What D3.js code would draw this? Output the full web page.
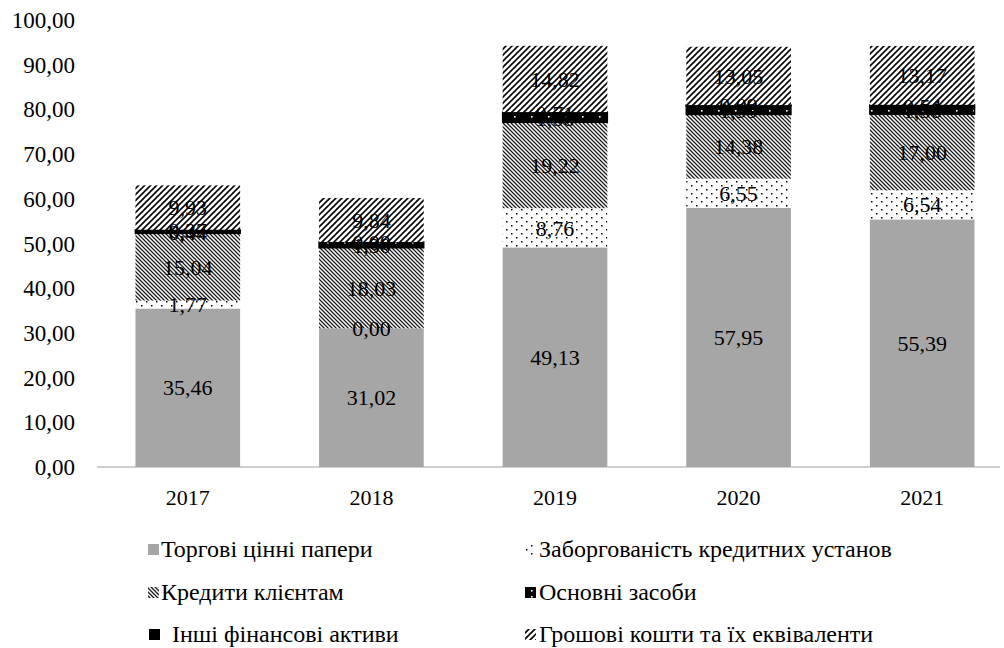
<!DOCTYPE html>
<html>
<head>
<meta charset="utf-8">
<script src="https://cdn.jsdelivr.net/npm/d3@7"></script>
<style>
  html, body { margin: 0; padding: 0; background: #fff; }
</style>
</head>
<body>
<svg id="chart" width="1004" height="648" font-family="'Liberation Serif', 'DejaVu Serif', serif"></svg>
<script>
// Structure of bank assets, %, by year
const years = ["2017", "2018", "2019", "2020", "2021"];

const seriesNames = [
  "Торгові цінні папери",
  "Заборгованість кредитних установ",
  "Кредити клієнтам",
  "Основні засоби",
  "Інші фінансові активи",
  "Грошові кошти та їх еквіваленти"
];

const tradingSecurities = [35.46, 31.02, 49.13, 57.95, 55.39];
const dueFromBanks      = [1.77, 0.00, 8.76, 6.55, 6.54];
const customerLoans     = [15.04, 18.03, 19.22, 14.38, 17.00];
const fixedAssets       = [0.44, 1.30, 1.58, 1.99, 1.56];
const otherFinAssets    = [0.37, 0.00, 0.71, 0.09, 0.54];
const cashEquivalents   = [9.93, 9.84, 14.82, 13.05, 13.17];

const yTicks = [0, 10, 20, 30, 40, 50, 60, 70, 80, 90, 100];

const seriesValues = [tradingSecurities, dueFromBanks, customerLoans,
                      fixedAssets, otherFinAssets, cashEquivalents];

const rows = years.map((y, i) => {
  const r = { year: y };
  seriesNames.forEach((n, k) => { r[n] = seriesValues[k][i]; });
  return r;
});

const svg = d3.select("#chart");
const defs = svg.append("defs");

// Fill patterns
function dotsPattern(id) {
  const p = defs.append("pattern").attr("id", id)
    .attr("patternUnits", "userSpaceOnUse").attr("width", 10).attr("height", 8);
  p.append("rect").attr("width", 10).attr("height", 8).attr("fill", "#fff");
  p.append("rect").attr("x", 1).attr("y", 1).attr("width", 1.5).attr("height", 1.5).attr("fill", "#000");
  p.append("rect").attr("x", 6).attr("y", 5).attr("width", 1.5).attr("height", 1.5).attr("fill", "#000");
}
function hatchPattern(id, size, width, dir, color) {
  const p = defs.append("pattern").attr("id", id)
    .attr("patternUnits", "userSpaceOnUse").attr("width", size).attr("height", size);
  p.append("rect").attr("width", size).attr("height", size).attr("fill", "#fff");
  const d = dir === "down"
    ? `M${-size},0 L${size * 2},${size * 3} M${-size},${-size} L${size * 2},${size * 2} M${-size},${-size * 2} L${size * 2},${size}`
    : `M${-size},${size} L${size},${-size} M0,${size * 2} L${size * 2},0 M${-size},${size * 2} L${size * 2},${-size}`;
  p.append("path").attr("d", d).attr("stroke", color).attr("stroke-width", width);
}
function blackDotsPattern(id) {
  const p = defs.append("pattern").attr("id", id)
    .attr("patternUnits", "userSpaceOnUse").attr("width", 17).attr("height", 6);
  p.append("rect").attr("width", 17).attr("height", 6).attr("fill", "#000");
  p.append("rect").attr("x", 4).attr("y", 2).attr("width", 1.6).attr("height", 1.6).attr("fill", "#fff");
}
dotsPattern("pDots");
hatchPattern("pDown", 4, 1.3, "down", "#1a1a1a");
blackDotsPattern("pBlackDots");
hatchPattern("pUp", 6, 1.6, "up", "#000");

const fills = ["#a6a6a6", "url(#pDots)", "url(#pDown)", "url(#pBlackDots)", "#000", "url(#pUp)"];

const x = d3.scaleBand().domain(years).range([96, 1014]).paddingInner(0.43).paddingOuter(0.215);
const y = d3.scaleLinear().domain([0, 100]).range([467, 20]);

const fmt = v => d3.format(".2f")(v).replace(".", ",");

// Y tick labels
svg.append("g").selectAll("text").data(yTicks).join("text")
  .attr("x", 75).attr("y", d => y(d)).attr("dy", "0.35em")
  .attr("text-anchor", "end").attr("font-size", 23).text(fmt);

// X axis baseline
svg.append("line").attr("x1", 97).attr("x2", 1000)
  .attr("y1", y(0)).attr("y2", y(0)).attr("stroke", "#bfbfbf").attr("stroke-width", 1.5);

// Year labels
svg.append("g").selectAll("text").data(years).join("text")
  .attr("x", d => x(d) + x.bandwidth() / 2).attr("y", 497).attr("dy", "0.35em")
  .attr("text-anchor", "middle").attr("font-size", 22).text(d => d);

const stacked = d3.stack().keys(seriesNames)(rows);

const layers = svg.append("g").selectAll("g").data(stacked).join("g")
  .attr("fill", (d, i) => fills[i]);

layers.selectAll("rect").data(d => d).join("rect")
  .attr("x", d => x(d.data.year))
  .attr("width", x.bandwidth())
  .attr("y", d => y(d[1]))
  .attr("height", d => y(d[0]) - y(d[1]))
  .attr("stroke", function () {
    const k = d3.select(this.parentNode).datum().index;
    return (k === 3 || k === 4) ? "#000" : "none";
  })
  .attr("stroke-width", 1.5);

// Value labels
const labels = svg.append("g");
stacked.forEach(layer => {
  layer.forEach(d => {
    labels.append("text")
      .attr("x", x(d.data.year) + x.bandwidth() / 2)
      .attr("y", y((d[0] + d[1]) / 2))
      .attr("dy", "0.35em")
      .attr("text-anchor", "middle")
      .attr("font-size", 22)
      .text(fmt(d.data[layer.key]));
  });
});

// Legend
const legendItems = [
  { k: 0, x: 148, tx: 161, y: 549 },
  { k: 1, x: 525, tx: 539, y: 549 },
  { k: 2, x: 148, tx: 161, y: 592 },
  { k: 3, x: 525, tx: 539, y: 592 },
  { k: 4, x: 149, tx: 172, y: 634 },
  { k: 5, x: 525, tx: 539, y: 634 }
];
const lg = svg.append("g").selectAll("g").data(legendItems).join("g");
lg.append("rect")
  .attr("x", d => d.x).attr("y", d => d.y - 5)
  .attr("width", 11).attr("height", 11)
  .attr("fill", d => fills[d.k]);
lg.append("text")
  .attr("x", d => d.tx).attr("y", d => d.y).attr("dy", "0.35em")
  .attr("font-size", 24).text(d => seriesNames[d.k]);
</script>
</body>
</html>
